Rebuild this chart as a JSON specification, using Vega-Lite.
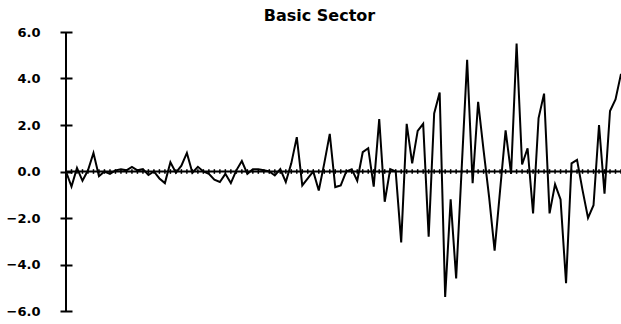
{
  "$schema": "https://vega.github.io/schema/vega-lite/v6.json",
  "width": 555,
  "height": 279,
  "autosize": "none",
  "padding": {"left": 66, "top": 32, "right": 0, "bottom": 13},
  "background": "white",
  "title": {
    "text": "Basic Sector",
    "font": "DejaVu Sans",
    "fontSize": 16,
    "fontWeight": "bold",
    "color": "black",
    "anchor": "middle",
    "frame": "group",
    "dx": -24,
    "offset": 2
  },
  "config": {"view": {"stroke": null}},
  "data": {
    "values": [
      {"i": 0, "v": 0.0}, {"i": 1, "v": -0.65}, {"i": 2, "v": 0.15}, {"i": 3, "v": -0.4},
      {"i": 4, "v": 0.05}, {"i": 5, "v": 0.8}, {"i": 6, "v": -0.2}, {"i": 7, "v": 0.0},
      {"i": 8, "v": -0.1}, {"i": 9, "v": 0.05}, {"i": 10, "v": 0.1}, {"i": 11, "v": 0.05},
      {"i": 12, "v": 0.2}, {"i": 13, "v": 0.05}, {"i": 14, "v": 0.1}, {"i": 15, "v": -0.15},
      {"i": 16, "v": 0.0}, {"i": 17, "v": -0.3}, {"i": 18, "v": -0.5}, {"i": 19, "v": 0.4},
      {"i": 20, "v": -0.05}, {"i": 21, "v": 0.25}, {"i": 22, "v": 0.8}, {"i": 23, "v": -0.05},
      {"i": 24, "v": 0.2}, {"i": 25, "v": 0.0}, {"i": 26, "v": -0.1}, {"i": 27, "v": -0.35},
      {"i": 28, "v": -0.45}, {"i": 29, "v": -0.1}, {"i": 30, "v": -0.5}, {"i": 31, "v": 0.05},
      {"i": 32, "v": 0.45}, {"i": 33, "v": -0.1}, {"i": 34, "v": 0.1}, {"i": 35, "v": 0.1},
      {"i": 36, "v": 0.05}, {"i": 37, "v": 0.0}, {"i": 38, "v": -0.17}, {"i": 39, "v": 0.1},
      {"i": 40, "v": -0.45}, {"i": 41, "v": 0.35}, {"i": 42, "v": 1.48}, {"i": 43, "v": -0.6},
      {"i": 44, "v": -0.3}, {"i": 45, "v": 0.0}, {"i": 46, "v": -0.82}, {"i": 47, "v": 0.35},
      {"i": 48, "v": 1.62}, {"i": 49, "v": -0.67}, {"i": 50, "v": -0.6}, {"i": 51, "v": 0.0},
      {"i": 52, "v": 0.1}, {"i": 53, "v": -0.4}, {"i": 54, "v": 0.83}, {"i": 55, "v": 1.0},
      {"i": 56, "v": -0.65}, {"i": 57, "v": 2.25}, {"i": 58, "v": -1.3}, {"i": 59, "v": 0.1},
      {"i": 60, "v": 0.0}, {"i": 61, "v": -3.05}, {"i": 62, "v": 2.05}, {"i": 63, "v": 0.35},
      {"i": 64, "v": 1.75}, {"i": 65, "v": 2.05}, {"i": 66, "v": -2.8}, {"i": 67, "v": 2.5},
      {"i": 68, "v": 3.4}, {"i": 69, "v": -5.4}, {"i": 70, "v": -1.2}, {"i": 71, "v": -4.6},
      {"i": 72, "v": 0.1}, {"i": 73, "v": 4.8}, {"i": 74, "v": -0.5}, {"i": 75, "v": 3.0},
      {"i": 76, "v": 0.9}, {"i": 77, "v": -1.1}, {"i": 78, "v": -3.4}, {"i": 79, "v": -0.8},
      {"i": 80, "v": 1.77}, {"i": 81, "v": -0.1}, {"i": 82, "v": 5.5}, {"i": 83, "v": 0.3},
      {"i": 84, "v": 1.0}, {"i": 85, "v": -1.8}, {"i": 86, "v": 2.3}, {"i": 87, "v": 3.35},
      {"i": 88, "v": -1.8}, {"i": 89, "v": -0.55}, {"i": 90, "v": -1.2}, {"i": 91, "v": -4.8},
      {"i": 92, "v": 0.35}, {"i": 93, "v": 0.5}, {"i": 94, "v": -0.8}, {"i": 95, "v": -2.0},
      {"i": 96, "v": -1.45}, {"i": 97, "v": 2.0}, {"i": 98, "v": -0.95}, {"i": 99, "v": 2.6},
      {"i": 100, "v": 3.1}, {"i": 101, "v": 4.2}
    ]
  },
  "encoding": {
    "x": {
      "field": "i",
      "type": "quantitative",
      "scale": {"domain": [0, 101], "nice": false, "zero": false},
      "axis": null
    }
  },
  "layer": [
    {
      "transform": [{"filter": "datum.i == 0"}],
      "mark": {"type": "rule", "color": "black", "strokeWidth": 2},
      "encoding": {
        "y": {"datum": -6, "type": "quantitative"},
        "y2": {"datum": 6}
      }
    },
    {
      "mark": {"type": "line", "color": "black", "strokeWidth": 2},
      "encoding": {
        "y": {"datum": 0, "type": "quantitative"}
      }
    },
    {
      "mark": {"type": "rule", "color": "black", "strokeWidth": 1.5},
      "encoding": {
        "y": {"datum": -0.1, "type": "quantitative"},
        "y2": {"datum": 0.1}
      }
    },
    {
      "mark": {"type": "line", "color": "black", "strokeWidth": 2},
      "encoding": {
        "y": {
          "field": "v",
          "type": "quantitative",
          "scale": {"domain": [-6, 6], "nice": false},
          "axis": {
            "values": [-6, -4, -2, 0, 2, 4, 6],
            "format": ".1f",
            "title": null,
            "grid": false,
            "domain": false,
            "offset": -6,
            "tickSize": 12,
            "tickWidth": 2,
            "tickColor": "black",
            "labelFont": "DejaVu Sans",
            "labelFontSize": 13,
            "labelFontWeight": "bold",
            "labelColor": "black",
            "labelPadding": 20
          }
        }
      }
    }
  ]
}
